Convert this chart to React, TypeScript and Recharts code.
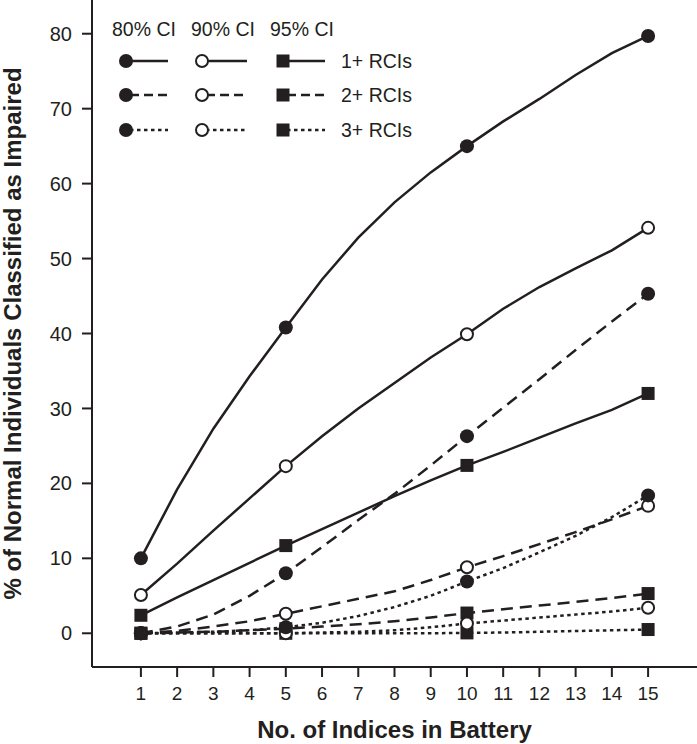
import React from 'react';
import { LineChart, Line, XAxis, YAxis } from 'recharts';

// ---------- data ----------
const indices = [1, 2, 3, 4, 5, 6, 7, 8, 9, 10, 11, 12, 13, 14, 15];
const markerIndices = [1, 5, 10, 15];

const ci80Rci1 = [10, 19.2, 27.3, 34.3, 40.8, 47.2, 52.8, 57.5, 61.5, 65.0, 68.3, 71.3, 74.5, 77.4, 79.7];
const ci80Rci2 = [0, 0.9, 2.5, 5.0, 8.0, 11.5, 15.1, 18.6, 22.4, 26.3, 30.1, 33.9, 37.8, 41.6, 45.3];
const ci80Rci3 = [0, 0.1, 0.2, 0.4, 0.8, 1.4, 2.3, 3.5, 5.0, 6.9, 8.7, 10.8, 13.0, 15.5, 18.4];

const ci90Rci1 = [5.1, 9.3, 13.7, 18.0, 22.3, 26.3, 30.0, 33.4, 36.8, 39.9, 43.3, 46.2, 48.7, 51.1, 54.1];
const ci90Rci2 = [0, 0.3, 0.9, 1.6, 2.6, 3.6, 4.6, 5.6, 7.1, 8.8, 10.3, 11.9, 13.5, 15.2, 17.0];
const ci90Rci3 = [0, 0, 0, 0, 0, 0.1, 0.2, 0.4, 0.8, 1.3, 1.7, 2.1, 2.5, 2.9, 3.4];

const ci95Rci1 = [2.4, 4.8, 7.1, 9.4, 11.7, 13.9, 16.1, 18.3, 20.4, 22.4, 24.2, 26.1, 28.0, 29.8, 32.0];
const ci95Rci2 = [0, 0.1, 0.2, 0.4, 0.6, 0.9, 1.2, 1.6, 2.1, 2.7, 3.2, 3.7, 4.2, 4.7, 5.3];
const ci95Rci3 = [0, 0, 0, 0, 0, 0, 0, 0, 0, 0.05, 0.1, 0.2, 0.3, 0.4, 0.5];

const yTicks = [0, 10, 20, 30, 40, 50, 60, 70, 80];
const ciLabels = ['80% CI', '90% CI', '95% CI'];
const rciLabels = ['1+ RCIs', '2+ RCIs', '3+ RCIs'];
const xLabel = 'No. of Indices in Battery';
const yLabel = '% of Normal Individuals Classified as Impaired';

type Kind = 'filled' | 'open' | 'square';
const ciKinds: Kind[] = ['filled', 'open', 'square'];

// series: [ci index][rci index]
const seriesValues = [
  [ci80Rci1, ci80Rci2, ci80Rci3],
  [ci90Rci1, ci90Rci2, ci90Rci3],
  [ci95Rci1, ci95Rci2, ci95Rci3],
];

const data = indices.map((x, i) => {
  const row: Record<string, number> = { x };
  seriesValues.forEach((ciSet, c) =>
    ciSet.forEach((vals, r) => {
      row[`s${c}_${r}`] = vals[i];
    })
  );
  return row;
});

// ---------- styling ----------
const DARK = '#231f20';
const FONT = '"Liberation Sans", Arial, Helvetica, sans-serif';
const chartDash = [undefined, '12 7', '3.5 3.5'];
const legendDash = [undefined, '9 5', '3.5 3.5'];

function Marker({ kind, cx, cy }: { kind: Kind; cx: number; cy: number }) {
  if (kind === 'filled') return <circle cx={cx} cy={cy} r={7} fill={DARK} />;
  if (kind === 'open')
    return <circle cx={cx} cy={cy} r={6} fill="#fff" stroke={DARK} strokeWidth={2} />;
  return <rect x={cx - 6.5} y={cy - 6.5} width={13} height={13} fill={DARK} />;
}

const makeDot = (kind: Kind, key: string) => (props: any) => {
  const { cx, cy, payload, index } = props;
  if (!payload || !markerIndices.includes(payload.x) || cx == null || cy == null)
    return <g key={`${key}-${index}`} />;
  return (
    <g key={`${key}-${index}`}>
      <Marker kind={kind} cx={cx} cy={cy} />
    </g>
  );
};

// ---------- legend (drawn inside the plot, top-left) ----------
const legendCols = [126, 202, 283];
const legendLineEnd = [168, 247, 325];
const legendHeaderX = [112, 191, 270];
const legendRows = [61, 95, 130];

function LegendOverlay() {
  return (
    <svg
      width={697}
      height={744}
      style={{ position: 'absolute', left: 0, top: 0, pointerEvents: 'none' }}
    >
      {ciLabels.map((t, c) => (
        <text key={t} x={legendHeaderX[c]} y={36} fontSize={19.5} fill={DARK} fontFamily={FONT}>
          {t}
        </text>
      ))}
      {rciLabels.map((t, r) => (
        <g key={t}>
          {ciKinds.map((kind, c) => (
            <g key={kind}>
              <line
                x1={legendCols[c] + 4}
                x2={legendLineEnd[c]}
                y1={legendRows[r]}
                y2={legendRows[r]}
                stroke={DARK}
                strokeWidth={2.5}
                strokeDasharray={legendDash[r]}
              />
              <Marker kind={kind} cx={legendCols[c]} cy={legendRows[r]} />
            </g>
          ))}
          <text x={341} y={legendRows[r] + 7} fontSize={19.5} fill={DARK} fontFamily={FONT}>
            {t}
          </text>
        </g>
      ))}
    </svg>
  );
}

// draw 95% first, then 90%, then 80% (80% markers on top)
const drawOrder = [2, 1, 0];

export default function App() {
  return (
    <div style={{ position: 'absolute', left: 0, top: 0, width: 697, height: 744, background: '#fff' }}>
      <LineChart
        width={697}
        height={744}
        data={data}
        margin={{ top: 0, right: 0, bottom: 0, left: 0 }}
      >
        <XAxis
          dataKey="x"
          type="number"
          domain={[-0.35, 16.35]}
          ticks={indices}
          interval={0}
          height={77}
          axisLine={{ stroke: DARK, strokeWidth: 2 }}
          tickLine={{ stroke: DARK, strokeWidth: 2 }}
          tickSize={10}
          tickMargin={10}
          tick={{ fill: DARK, fontSize: 19, fontFamily: FONT }}
          label={{
            value: xLabel,
            position: 'insideBottom',
            offset: 6,
            style: { fill: DARK, fontSize: 24, fontWeight: 'bold', fontFamily: FONT },
          }}
        />
        <YAxis
          type="number"
          domain={[-4.5, 84.5]}
          ticks={yTicks}
          interval={0}
          width={92}
          axisLine={{ stroke: DARK, strokeWidth: 2 }}
          tickLine={{ stroke: DARK, strokeWidth: 2 }}
          tickSize={10}
          tickMargin={10}
          tick={{ fill: DARK, fontSize: 20, fontFamily: FONT }}
          label={{
            value: yLabel,
            position: 'insideLeft',
            angle: -90,
            offset: 12,
            style: {
              fill: DARK,
              fontSize: 24,
              fontWeight: 'bold',
              fontFamily: FONT,
              textAnchor: 'middle',
            },
          }}
        />
        {drawOrder.map((c) =>
          [0, 1, 2].map((r) => {
            const key = `s${c}_${r}`;
            return (
              <Line
                key={key}
                dataKey={key}
                type="linear"
                stroke={DARK}
                strokeWidth={2.5}
                strokeDasharray={chartDash[r]}
                dot={makeDot(ciKinds[c], key)}
                activeDot={false}
                isAnimationActive={false}
                legendType="none"
              />
            );
          })
        )}
      </LineChart>
      <LegendOverlay />
    </div>
  );
}
